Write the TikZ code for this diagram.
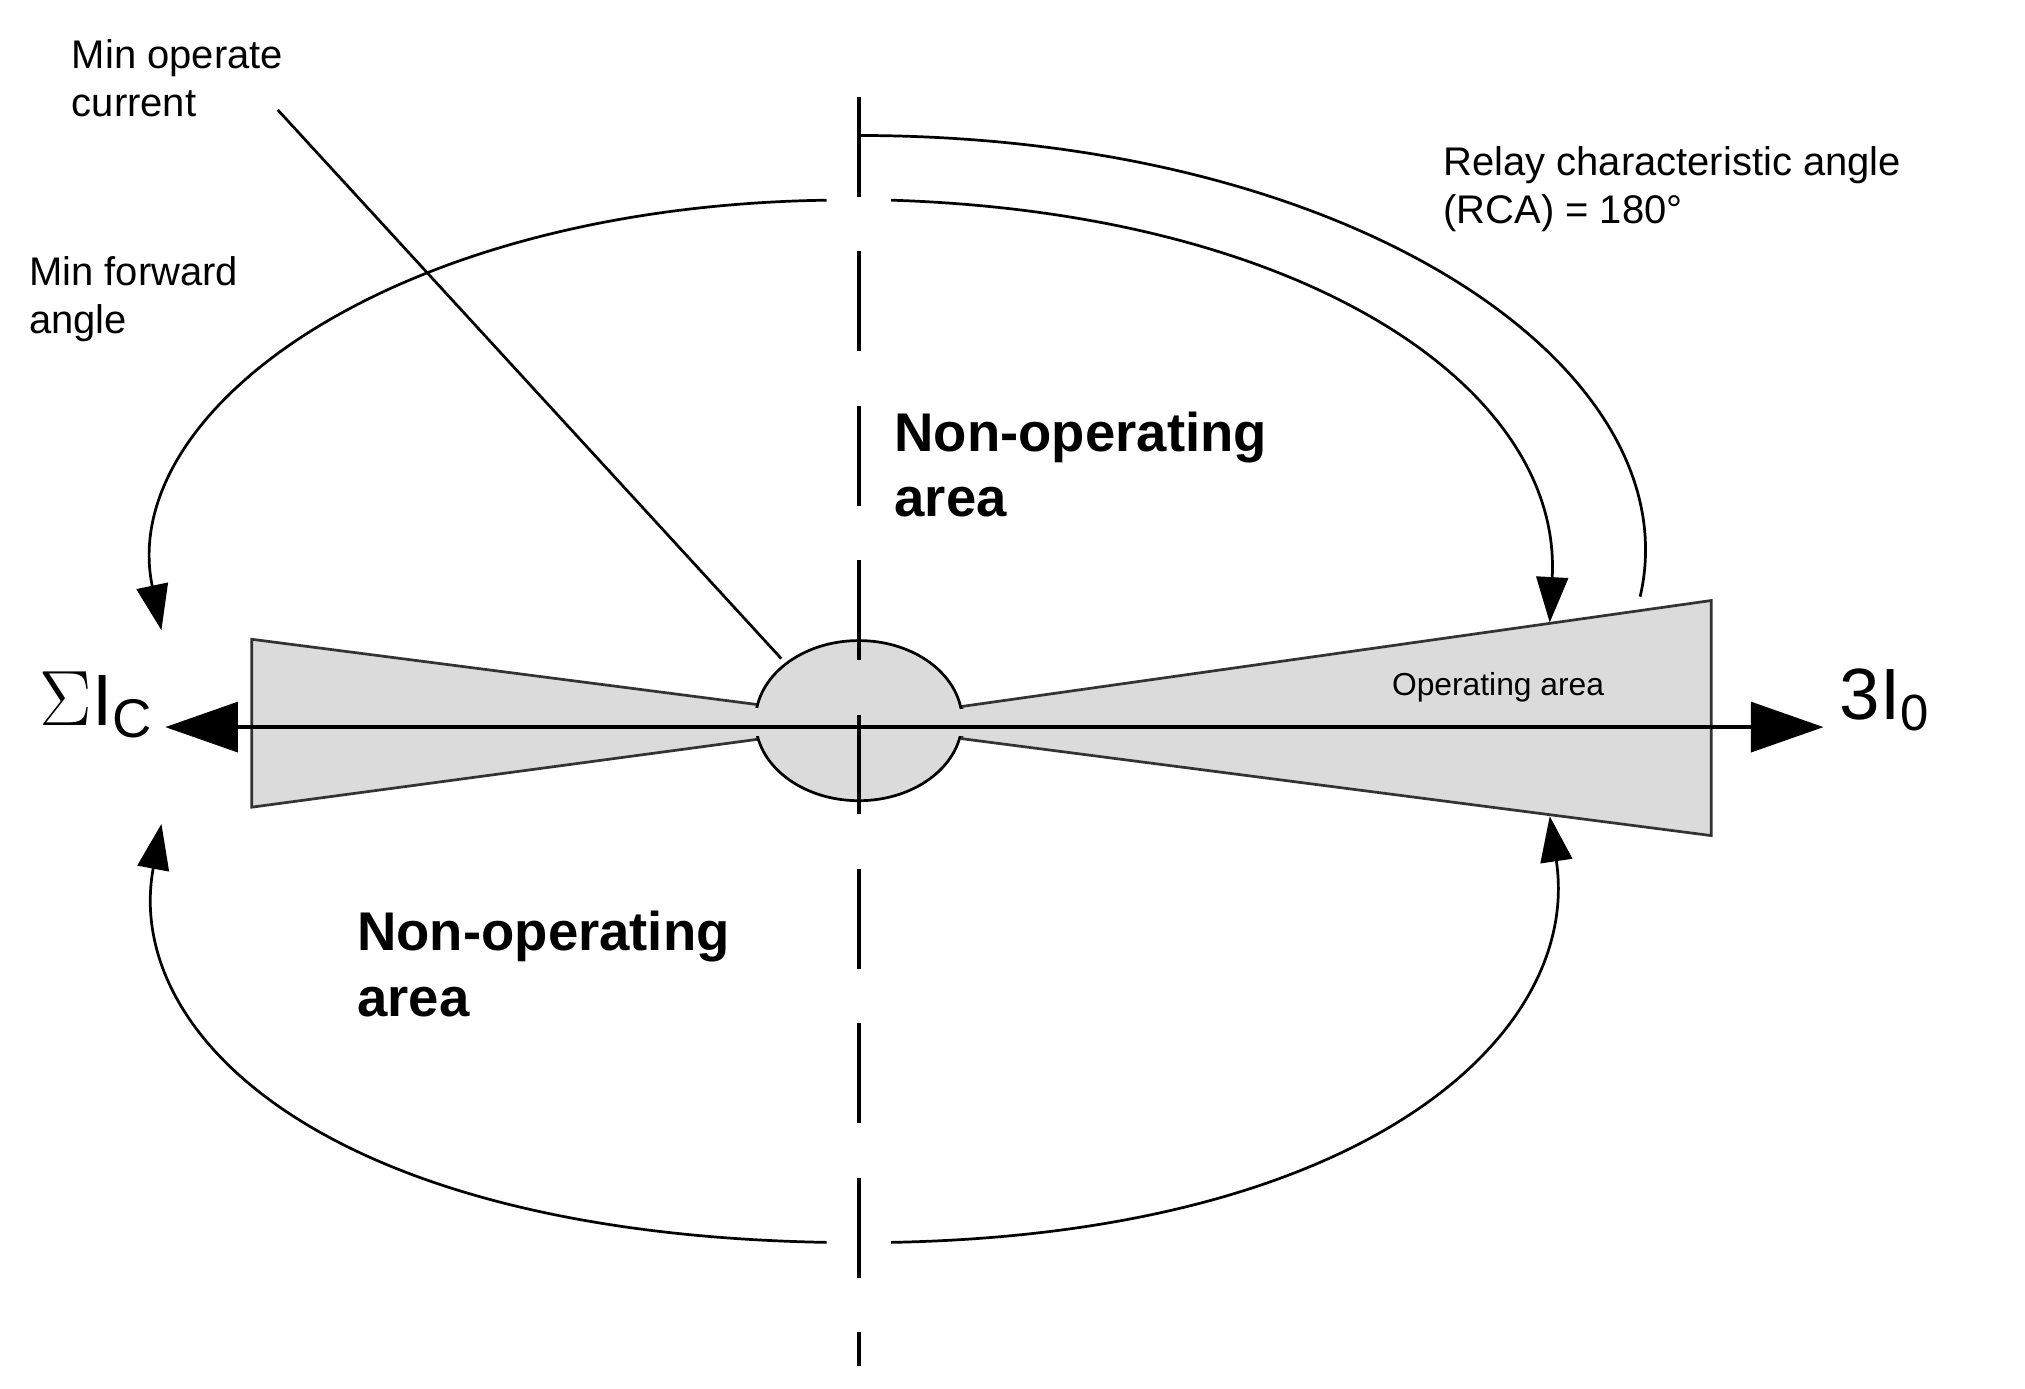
\documentclass[tikz,border=0pt]{standalone}
\usepackage{fontspec}
\setmainfont{Liberation Sans}
\usetikzlibrary{arrows.meta}
\begin{document}
\begin{tikzpicture}[x=0.01cm,y=-0.01cm,
  lbl/.style={font=\fontsize{8.8pt}{10.5pt}\selectfont,align=left,anchor=north west,inner sep=0pt},
  big/.style={font=\fontsize{12pt}{14.5pt}\selectfont\bfseries,align=left,anchor=north west,inner sep=0pt},
  arc/.style={line width=0.6pt,-{Triangle[length=10pt,width=7pt]}},
  wedge/.style={fill=black!14,draw=black!80,line width=0.6pt}]
\useasboundingbox (0,0) rectangle (1568,1075);
% wedges
\draw[wedge] (195,495) -- (590,546) -- (590,572) -- (195,625) -- cycle;
\draw[wedge] (745,547) -- (1325,465) -- (1325,647) -- (745,572) -- cycle;
\coordinate (c) at (665,558);
\fill[black!14] (c) ellipse [x radius=80,y radius=62];
\draw[line width=0.6pt] (c) ellipse [x radius=80,y radius=62];
\fill[black!14] (580,548) rectangle (600,570);
\fill[black!14] (730,549) rectangle (755,570);
% dashed axis
\coordinate (vt) at (665,75); \coordinate (vb) at (665,1058);
\draw[line width=0.9pt,dash pattern=on 22pt off 12pt] (vt) -- (vb);
% horizontal axis
\coordinate (hl) at (128,563); \coordinate (hr) at (1412,563);
\draw[line width=0.8pt,{Triangle[length=16pt,width=11pt]}-{Triangle[length=16pt,width=11pt]}] (hl) -- (hr);
% min operate current line
\coordinate (m1) at (215,85); \coordinate (m2) at (605,510);
\draw[line width=0.6pt] (m1) -- (m2);
% arcs
\draw[arc] (640,155) .. controls (300,160) and (90,320) .. (125,488);
\draw[arc] (690,155) .. controls (1010,165) and (1210,300) .. (1200,482);
\draw[line width=0.6pt] (665,105) -- (680,105) .. controls (1060,110) and (1310,290) .. (1270,462);
\draw[arc] (640,962) .. controls (250,955) and (95,800) .. (125,638);
\draw[arc] (690,962) .. controls (1060,955) and (1225,800) .. (1200,632);
% texts
\node[lbl] (t1) at (55,30) {Min operate\\current};
\node[lbl] (t2) at (22,198) {Min forward\\angle};
\node[lbl] (t3) at (1117,113) {Relay characteristic angle\\(RCA) = 180°};
\node[big] (t4) at (692,318) {Non-operating\\area};
\node[big] (t5) at (276,705) {Non-operating\\area};
\node[font=\fontsize{7pt}{8pt}\selectfont,inner sep=0pt] (t6) at (1160,532) {Operating area};
\node[font=\fontsize{16pt}{18pt}\selectfont,inner sep=0pt] (t7) at (75,546) {$\Sigma$I\textsubscript{\fontsize{12pt}{13pt}\selectfont C}};
\node[font=\fontsize{16pt}{18pt}\selectfont,inner sep=0pt] (t8) at (1460,542) {3I\textsubscript{0}};
\end{tikzpicture}
\end{document}
